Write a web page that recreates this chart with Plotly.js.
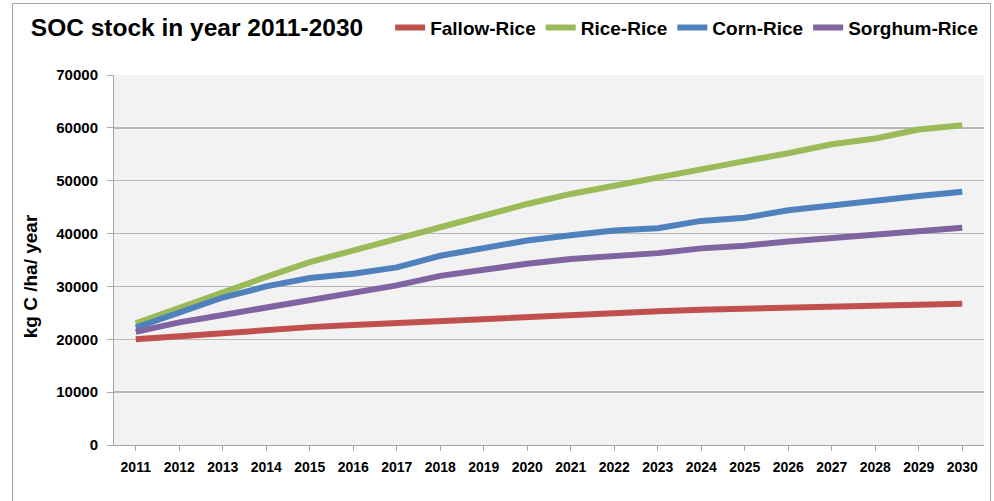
<!DOCTYPE html>
<html>
<head>
<meta charset="utf-8">
<script src="https://cdn.plot.ly/plotly-3.0.1.min.js"></script>
<style>
html,body{margin:0;padding:0;background:#fff;}
#wrap{position:relative;width:994px;height:501px;overflow:hidden;}
#chart{width:994px;height:501px;}
#frame{position:absolute;left:12px;top:3px;width:977px;height:520px;border:1px solid #a6a6a6;pointer-events:none;}
</style>
</head>
<body>
<div id="wrap"><div id="chart"></div><div id="frame"></div></div>
<script>
const years = ['2011','2012','2013','2014','2015','2016','2017','2018','2019','2020','2021','2022','2023','2024','2025','2026','2027','2028','2029','2030'];
const fallowRice = [20000,20600,21200,21800,22300,22700,23100,23500,23900,24300,24600,24900,25300,25600,25800,26000,26100,26300,26500,26700];
const riceRice = [23000,26000,28900,31800,34600,36900,39000,41200,43500,45600,47500,49100,50500,52300,53700,55200,56900,58000,59700,60500];
const cornRice = [22200,25100,27900,30000,31600,32400,33600,35800,37300,38700,39700,40600,41000,42400,43000,44400,45300,46300,47100,47900];
const sorghumRice = [21400,23200,24600,26000,27400,28800,30200,32000,33200,34300,35200,35700,36300,37200,37700,38500,39100,39700,40500,41100];
const seriesNames = ['Fallow-Rice','Rice-Rice','Corn-Rice','Sorghum-Rice'];
const seriesColors = ['#c0504d','#9bbb59','#4f81bd','#8064a2'];
const seriesData = [fallowRice, riceRice, cornRice, sorghumRice];
const yTitle = 'kg C /ha/ year';
const chartTitle = 'SOC stock in year 2011-2030';

const traces = seriesData.map((d,i)=>({
  x: years, y: d, type:'scatter', mode:'lines', name: seriesNames[i],
  line:{color: seriesColors[i], width:6}
}));

const layout = {
  width:994, height:501,
  margin:{l:114, r:10, t:75, b:56},
  paper_bgcolor:'#ffffff', plot_bgcolor:'#f2f2f2',
  font:{family:'Liberation Sans, Arial, sans-serif', color:'#000'},
  title:{text:'<b>'+chartTitle+'</b>', x:0.031, xanchor:'left', y:0.945, yanchor:'middle', font:{size:24.5, color:'#000'}},
  showlegend:true,
  legend:{orientation:'h', x:0.3925, xanchor:'left', y:0.945, yanchor:'middle', xref:'container', yref:'container',
          font:{size:19, color:'#000', weight:'bold'}, itemwidth:30, tracegroupgap:0, bgcolor:'rgba(0,0,0,0)'},
  xaxis:{type:'category', range:[-0.5,19.5], ticks:'outside', ticklen:5, tickcolor:'#a6a6a6',
         showline:true, linecolor:'#a6a6a6', showgrid:false, zeroline:false, ticklabelstandoff:4,
         tickfont:{size:14, color:'#000', weight:'bold'}, fixedrange:true},
  yaxis:{range:[0,70000], dtick:10000, tickformat:'d', ticks:'outside', ticklen:6, tickcolor:'#a6a6a6',
         showline:true, linecolor:'#a6a6a6', gridcolor:'#b8b8b8', gridwidth:1.5, zeroline:false,
         tickfont:{size:15, color:'#000', weight:'bold'}, ticklabelstandoff:6,
         title:{text:''}},
  annotations:[{text:'<b>'+yTitle+'</b>', xref:'paper', yref:'paper', x:-0.095, y:0.457,
                xanchor:'center', yanchor:'middle', textangle:-90, showarrow:false,
                font:{size:19, color:'#000'}}]
};
Plotly.newPlot('chart', traces, layout, {displayModeBar:false, staticPlot:true});
</script>
</body>
</html>
